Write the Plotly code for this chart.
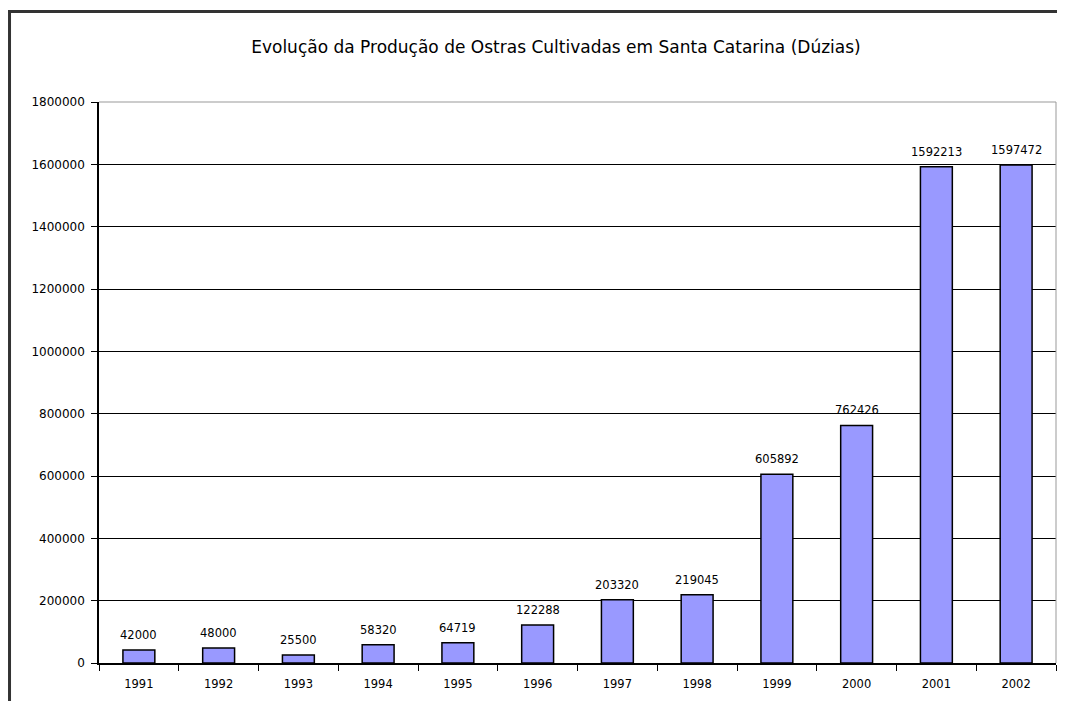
import plotly.graph_objects as go

years = ['1991', '1992', '1993', '1994', '1995', '1996', '1997', '1998', '1999', '2000', '2001', '2002']
dozens = [42000, 48000, 25500, 58320, 64719, 122288, 203320, 219045, 605892, 762426, 1592213, 1597472]
y_ticks = [0, 200000, 400000, 600000, 800000, 1000000, 1200000, 1400000, 1600000, 1800000]

font = 'DejaVu Sans, Verdana, sans-serif'

fig = go.Figure()
fig.add_bar(
    x=years, y=dozens,
    marker=dict(color='#9999ff', line=dict(color='black', width=1.5)),
    width=0.40,
)

# value labels above each bar (category axis: position by index,
# since numeric-looking names would be read as indices)
for i, val in enumerate(dozens):
    fig.add_annotation(x=i, y=val, text=str(val), showarrow=False,
                       yanchor='bottom', yshift=6,
                       font=dict(family=font, size=11.5, color='black'))

# page body has an 8px margin, so the figure is sized to fit inside the window
fig.update_layout(
    width=1049, height=693,
    margin=dict(l=91, r=1, t=94, b=38),
    paper_bgcolor='white', plot_bgcolor='white',
    showlegend=False,
    title=dict(text='Evolução da Produção de Ostras Cultivadas em Santa Catarina (Dúzias)',
               x=0.4775, xref='paper', xanchor='center', y=0.9437, yanchor='middle',
               font=dict(family=font, size=17, color='black')),
    shapes=[
        # outer chart frame (cut off at right and bottom)
        dict(type='rect', xref='paper', yref='paper', x0=-0.0935, x1=1.1, y0=-0.3, y1=1.1613,
             line=dict(color='#333333', width=3), layer='above'),
        # plot area border, top and right
        dict(type='line', xref='paper', yref='paper', x0=0, x1=1, y0=1, y1=1,
             line=dict(color='#999999', width=1), layer='above'),
        dict(type='line', xref='paper', yref='paper', x0=1, x1=1, y0=0, y1=1,
             line=dict(color='#999999', width=1), layer='above'),
    ],
)

fig.update_xaxes(
    type='category', range=[-0.5, len(years) - 0.5],
    tickson='boundaries', ticks='outside', ticklen=6, tickcolor='black',
    showline=True, linecolor='black', linewidth=1.5, showgrid=False,
    ticklabelstandoff=9,
    tickfont=dict(family=font, size=11.5, color='black'),
)
fig.update_yaxes(
    range=[0, 1800000], tickvals=y_ticks, ticktext=[str(v) for v in y_ticks],
    ticks='outside', ticklen=6, tickcolor='black',
    showline=True, linecolor='black', linewidth=1.5,
    showgrid=True, gridcolor='black', gridwidth=1, zeroline=False,
    ticklabelstandoff=4,
    tickfont=dict(family=font, size=12, color='black'),
)

fig.write_html('out.html')
